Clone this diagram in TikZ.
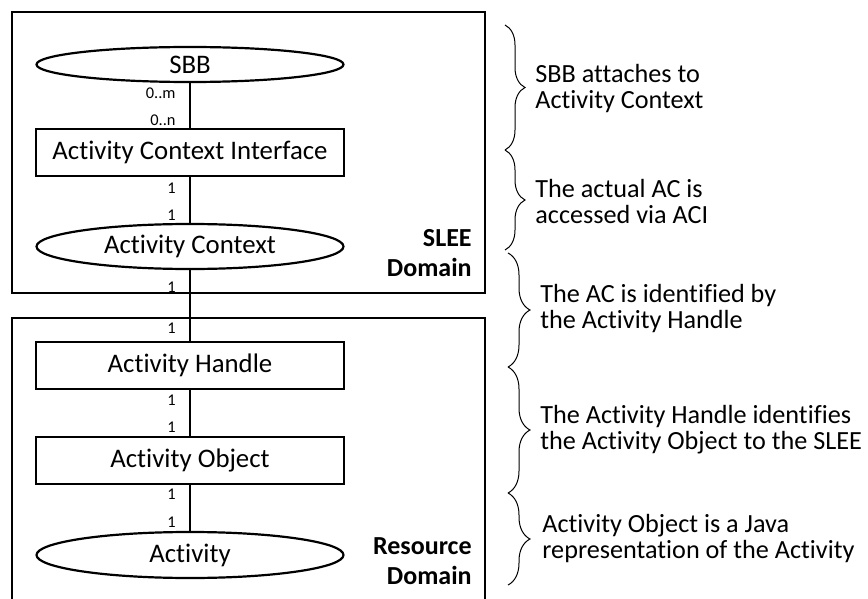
\documentclass[tikz,border=0pt]{standalone}
\usepackage{fontspec}
\setmainfont{Carlito}[Ligatures=NoCommon]
\usetikzlibrary{shapes.geometric,decorations.pathreplacing}

\begin{document}
\begin{tikzpicture}[x=0.5pt,y=-0.5pt,
  every node/.style={inner sep=0pt},
  frameline/.style={draw,line width=1.3pt},
  entity/.style={draw,line width=1.2pt,rectangle,minimum width=154pt,minimum height=23.5pt,font=\fontsize{13.4}{13.4}\selectfont},
  role/.style={draw,line width=1.1pt,ellipse,minimum width=153.5pt,font=\fontsize{13.4}{13.4}\selectfont},
  link/.style={line width=1pt},
  mult/.style={anchor=east,font=\fontsize{8.2}{8.2}\selectfont},
  tag/.style={anchor=east,align=right,font=\fontsize{13}{15}\selectfont\bfseries},
  note/.style={anchor=west,align=left,font=\fontsize{13.1}{13}\selectfont},
  grp/.style={decorate,decoration={brace,amplitude=#1},line width=0.5pt},
  grp/.default=10pt
]
\useasboundingbox (0,0) rectangle (868,599);

% domain frames
\draw[frameline] (12,12) rectangle (485,293);
\draw[frameline] (12,602) -- (12,318) -- (485,318) -- (485,602);

% entities
\node[role,minimum height=17.5pt] (sbb) at (190,64.5) {SBB};
\node[entity] (aci) at (190,152.5) {Activity Context Interface};
\node[role,minimum height=22.5pt] (ac) at (190,246.5) {Activity Context};
\node[entity] (ah) at (190,365.5) {Activity Handle};
\node[entity] (ao) at (190,460.5) {Activity Object};
\node[role,minimum height=23pt] (act) at (190,555) {Activity};

% associations
\draw[link] (sbb.south) -- (aci.north);
\draw[link] (aci.south) -- (ac.north);
\draw[link] (ac.south) -- (ah.north);
\draw[link] (ah.south) -- (ao.north);
\draw[link] (ao.south) -- (act.north);

% multiplicities
\node[mult] (m1) at (176,93) {0..m};
\node[mult] (m2) at (176,120) {0..n};
\node[mult] (m3) at (176,188) {1};
\node[mult] (m4) at (176,215) {1};
\node[mult] (m5) at (176,287) {1};
\node[mult] (m6) at (176,328) {1};
\node[mult] (m7) at (176,400) {1};
\node[mult] (m8) at (176,427) {1};
\node[mult] (m9) at (176,494) {1};
\node[mult] (m10) at (176,522) {1};

% domain names
\node[tag] (slee) at (472,253) {SLEE\\Domain};
\node[tag] (res) at (472,561) {Resource\\Domain};

% explanatory braces
\draw[grp] (505,25) -- (505,150);
\draw[grp] (505,150) -- (505,250);
\draw[grp=11pt] (508,253) -- (508,367);
\draw[grp=11pt] (508,367) -- (508,493);
\draw[grp=11pt] (508,493) -- (508,585);

\node[note] (n1) at (535,89) {SBB attaches to\\Activity Context};
\node[note] (n2) at (535,201) {The actual AC is\\accessed via ACI};
\node[note] (n3) at (540,309) {The AC is identified by\\the Activity Handle};
\node[note] (n4) at (540,430) {The Activity Handle identifies\\the Activity Object to the SLEE};
\node[note] (n5) at (542,539) {Activity Object is a Java\\representation of the Activity};
\end{tikzpicture}
\end{document}
